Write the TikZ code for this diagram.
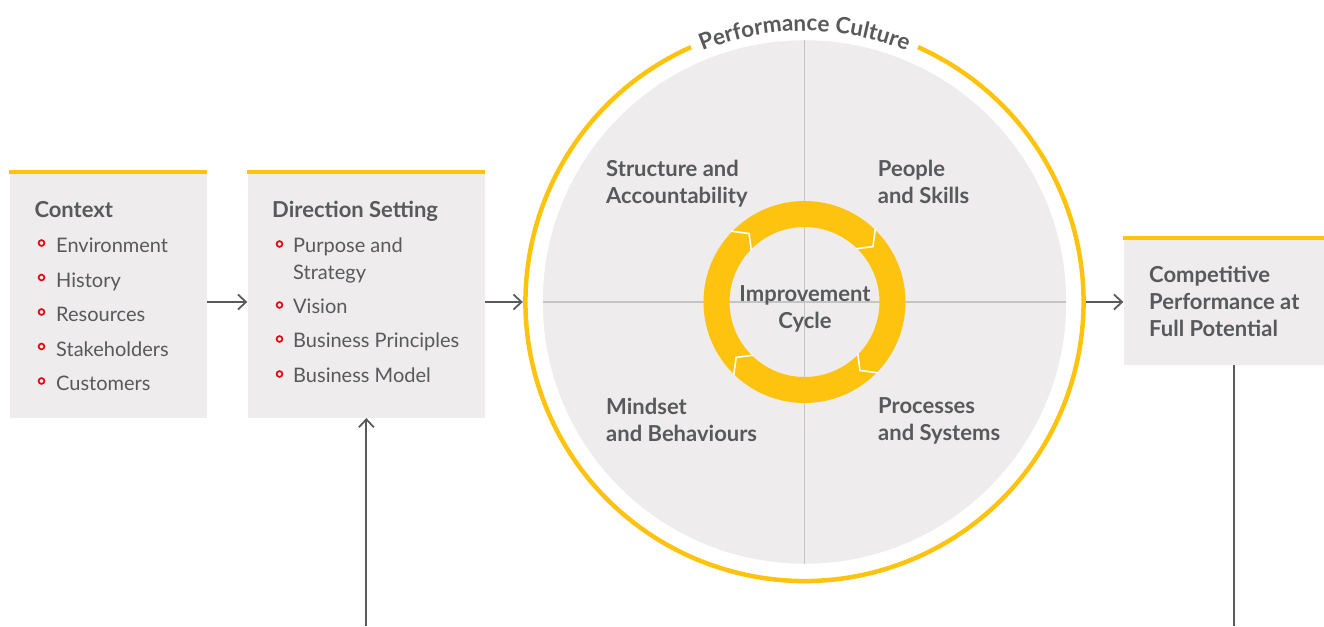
\documentclass[tikz,border=0pt]{standalone}
\usepackage{fontspec}
\setmainfont{Lato}
\usetikzlibrary{arrows.meta}
\usetikzlibrary{decorations.text}
\definecolor{shellyellow}{RGB}{253,195,15}
\definecolor{panelgray}{RGB}{238,236,237}
\definecolor{textgray}{RGB}{88,89,91}
\definecolor{linegray}{RGB}{89,90,92}
\definecolor{crossgray}{RGB}{196,196,196}
\definecolor{bulletred}{RGB}{227,6,19}

\tikzset{
  panel/.style={fill=panelgray, inner sep=0, anchor=south west},
  topbar/.style={draw=shellyellow, line width=3.6},
  head/.style={anchor=base west, inner sep=0, align=left, text=textgray,
    font=\fontsize{22}{27}\selectfont\bfseries},
  item/.style={anchor=base west, inner sep=0, align=left, text=textgray,
    font=\fontsize{20}{27}\selectfont},
  bul/.style={draw=bulletred, line width=1.7},
  conn/.style={draw=linegray, line width=1.8},
  arr/.style={conn, -{Straight Barb[length=8pt, width=15pt]}}
}

\begin{document}
\begin{tikzpicture}[x=1pt, y=1pt]
\useasboundingbox (0,0) rectangle (1324,626);
\coordinate (base) at (0,0);
\coordinate (C) at (804.5,324);

% panels
\node[panel, minimum width=197.7, minimum height=244] (ctx) at (9.3,208) {};
\node[panel, minimum width=237.7, minimum height=244] (dir) at (247.3,208) {};
\node[panel, minimum width=200.7, minimum height=124.3] (comp) at (1123.3,261) {};
\draw[topbar] ([yshift=1.7]ctx.north west) -- ([yshift=1.7]ctx.north east);
\draw[topbar] ([yshift=1.8]dir.north west) -- ([yshift=1.8]dir.north east);
\draw[topbar, line width=4] ([yshift=2]comp.north west) -- ([yshift=2]comp.north east);

% context (multi-line nodes sit on their last baseline)
\node[head] (ctxT) at (34.3,408) {Context};
\node[item] (ctx1) at (56,373) {Environment};
\node[item] (ctx2) at (56,338.5) {History};
\node[item] (ctx3) at (56,304) {Resources};
\node[item] (ctx4) at (56,269.5) {Stakeholders};
\node[item] (ctx5) at (56,235) {Customers};
\draw[bul] (41.5,383) circle (2.9) (41.5,348.5) circle (2.9) (41.5,314) circle (2.9)
  (41.5,279.5) circle (2.9) (41.5,245) circle (2.9);

% direction setting
\node[head] (dirT) at (272,408) {Direction Setting};
\node[item] (dir1) at (293,346) {Purpose and\\Strategy};
\node[item] (dir2) at (293,312) {Vision};
\node[item] (dir3) at (293,278) {Business Principles};
\node[item] (dir4) at (293,243) {Business Model};
\draw[bul] (279.5,382) circle (2.9) (279.5,321) circle (2.9) (279.5,287) circle (2.9)
  (279.5,252) circle (2.9);

% performance culture circle
\fill[panelgray] (C) circle (261.7);
\draw[crossgray, line width=1.3] ([yshift=261.7]C) -- ([yshift=-261.7]C)
  ([xshift=-261.7]C) -- ([xshift=261.7]C);
\fill[shellyellow, even odd rule] (C) circle (101) (C) circle (75);
\begin{scope}[shift={(C)}, draw=white, line width=1.6]
\draw (46:102) -- (39:88) -- (46:74);
\draw (136:102) -- (129:88) -- (136:74);
\draw (226:102) -- (219:88) -- (226:74);
\draw (316:102) -- (309:88) -- (316:74);
\end{scope}
\draw[shellyellow, line width=4.5] ([shift={(114:279)}]C) arc[start angle=114, end angle=426, radius=279];
\node[circle, minimum size=563, inner sep=0] (pc) at (C) {};
\path[decorate, decoration={text along path, text align=center, text color=textgray,
  text={|\fontsize{22.5}{22.5}\selectfont\bfseries|Performance Culture}}]
  ([shift={(116:271)}]C) arc[start angle=116, end angle=64, radius=271];

\node[head] (q1) at (606,422.7) {Structure and\\Accountability};
\node[head] (q2) at (877.7,422.7) {People\\and Skills};
\node[head] (q3) at (606,184.3) {Mindset\\and Behaviours};
\node[head] (q4) at (878,185.5) {Processes\\and Systems};
\node[head, anchor=base, align=center] (imp) at (805,297) {Improvement\\Cycle};

% outcome
\node[head] (compT) at (1149,289) {Competitive\\Performance at\\Full Potential};

% connectors
\draw[arr] (ctx.east |- C) -- (dir.west |- C);
\draw[arr] (dir.east |- C) -- (pc.west);
\draw[arr] (pc.east) -- (comp.west |- C);
\draw[arr] (dir.south |- base) -- (dir.south);
\coordinate (compfoot) at (1234,0);
\draw[conn] (comp.south -| compfoot) -- (compfoot);

\end{tikzpicture}
\end{document}
